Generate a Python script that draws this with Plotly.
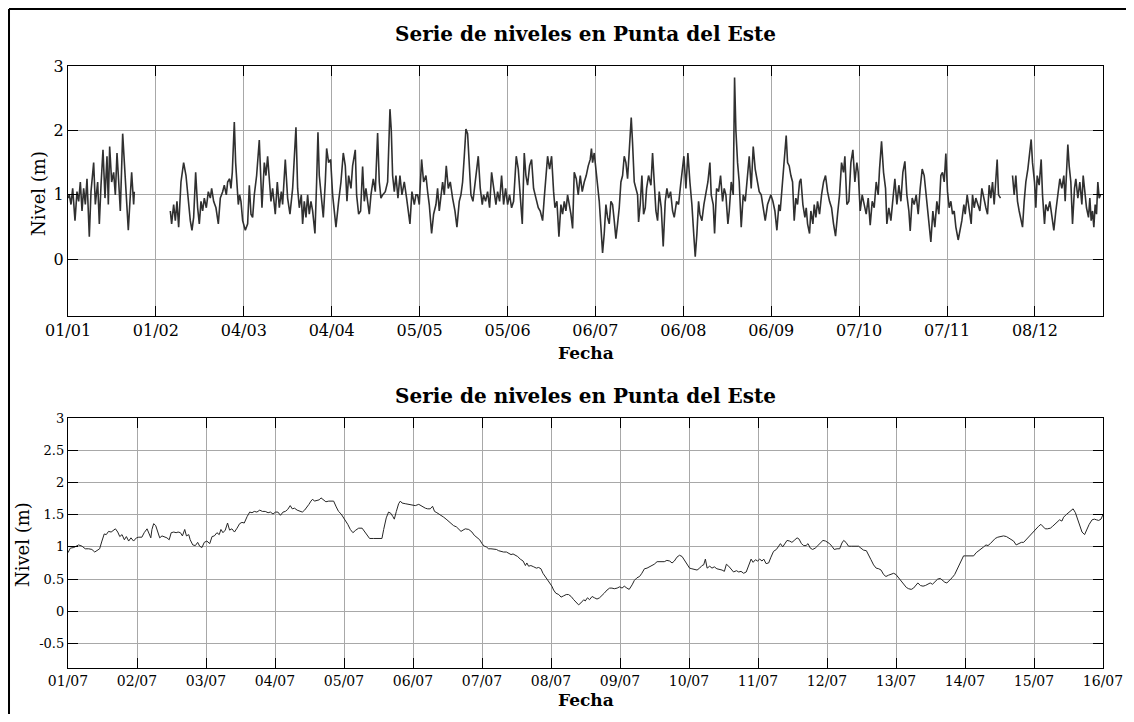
import pandas as pd
import plotly.graph_objects as go
from plotly.subplots import make_subplots

# ---- datos ----
# serie anual: (dias desde 01/01, nivel en m); tres tramos separados por huecos
anual_ene = [(0.0, 0.95), (0.47, 1.0), (1.06, 0.85), (1.65, 1.1), (2.47, 0.6), (3.17, 1.05), (3.76, 0.9),
             (4.35, 1.2), (4.94, 0.75), (5.52, 1.1), (6.11, 0.85), (6.70, 1.25), (7.52, 0.35), (8.11, 1.05),
             (9.05, 1.5), (9.64, 0.85), (10.46, 1.2), (11.05, 0.55), (11.64, 1.15), (12.34, 1.7), (13.05, 0.95),
             (13.75, 1.6), (14.22, 0.85), (14.69, 1.75), (15.40, 1.2), (16.10, 1.35), (16.69, 1.0), (17.28, 1.65),
             (17.75, 1.3), (18.45, 0.75), (19.28, 1.95), (20.10, 1.3), (20.80, 0.8), (21.27, 0.45), (21.98, 1.0),
             (22.45, 1.35), (23.15, 0.85), (23.39, 1.05)]

anual_feb_nov = [
    (36.08, 0.75), (36.55, 0.55), (37.26, 0.85), (37.85, 0.6), (38.43, 0.9), (39.02, 0.5), (39.84, 1.2),
    (40.78, 1.5), (41.61, 1.3), (42.43, 0.9), (43.13, 0.6), (43.72, 0.45), (44.31, 0.65), (45.02, 1.35),
    (45.72, 0.8), (46.31, 0.55), (46.90, 0.9), (47.48, 0.75), (48.07, 0.95), (48.78, 0.8), (49.48, 1.05),
    (50.19, 0.95), (50.66, 1.1), (51.36, 0.9), (52.18, 0.8), (53.01, 0.55), (53.71, 0.95), (54.54, 1.05),
    (55.12, 1.15), (55.83, 1.0), (56.30, 1.2), (57.00, 1.25), (57.47, 1.1), (57.94, 1.35), (58.41, 2.0),
    (58.65, 2.13), (59.12, 1.5), (59.59, 1.1), (60.06, 0.85), (60.53, 1.0), (61.00, 0.9),
    (61.59, 0.6), (62.53, 0.45), (63.35, 0.55), (63.94, 1.15), (64.53, 0.7), (65.11, 0.65), (65.70, 1.0),
    (66.52, 1.3), (67.46, 1.85), (68.05, 1.0), (68.40, 0.8), (69.23, 1.5), (69.81, 1.3), (70.40, 1.6),
    (70.99, 1.2), (71.58, 0.9), (72.16, 1.1), (73.10, 0.7), (73.81, 1.2), (74.52, 0.8), (75.22, 1.05),
    (75.69, 0.85), (76.63, 1.55), (77.45, 0.95), (78.28, 0.7), (79.22, 1.1), (80.39, 2.05), (80.98, 1.1),
    (81.57, 0.8), (82.27, 1.0), (82.74, 0.55), (83.33, 0.9), (83.92, 0.65), (84.51, 1.0), (85.09, 0.7),
    (85.68, 0.9), (86.27, 0.75), (87.09, 0.4), (87.68, 1.2), (88.15, 1.97), (88.62, 1.3), (89.21, 1.0),
    (90.03, 0.65), (90.74, 1.2), (91.21, 1.72), (91.91, 1.5), (92.62, 1.55), (93.32, 1.0), (93.91, 0.7),
    (94.50, 0.5), (95.44, 0.9), (96.26, 1.2), (97.08, 1.65), (97.79, 1.45), (98.38, 0.9), (98.96, 1.3),
    (99.79, 1.1), (100.37, 1.45), (101.31, 1.7), (101.78, 1.0), (102.49, 0.7), (103.19, 0.75), (103.90, 1.44),
    (104.49, 0.9), (105.07, 1.1), (105.66, 0.9), (106.25, 0.7), (106.84, 1.0), (107.66, 1.25), (108.37, 1.05),
    (109.19, 1.96), (109.78, 1.2), (110.36, 0.95), (110.95, 1.0), (111.89, 1.05), (112.72, 1.2), (113.54, 2.33),
    (114.01, 2.0), (114.48, 1.3), (115.07, 1.05), (115.65, 1.3), (116.36, 0.95), (117.06, 1.3), (117.77, 1.0),
    (118.59, 1.2), (119.41, 0.95), (120.12, 0.7), (120.59, 0.55), (121.29, 1.05), (122.12, 0.85), (122.70, 1.0),
    (123.29, 1.0), (123.88, 0.85), (124.70, 1.55), (125.41, 1.2), (126.23, 1.3), (126.82, 1.05), (127.40, 0.85),
    (128.23, 0.4), (128.93, 0.7), (129.76, 0.85), (130.34, 1.1), (130.93, 0.75), (131.52, 0.95), (132.11, 1.2),
    (132.70, 1.0), (133.40, 1.45), (134.11, 1.1), (134.81, 1.2), (135.63, 0.95), (136.46, 0.75), (137.16, 0.5),
    (137.98, 0.9), (138.57, 1.0), (139.16, 1.2), (139.75, 1.6), (140.33, 2.02), (140.92, 1.95), (141.51, 1.5),
    (142.10, 1.0), (142.80, 0.9), (143.27, 1.1), (143.98, 1.4), (144.68, 1.6), (145.39, 1.1), (146.09, 0.85),
    (146.56, 1.0), (147.27, 0.9), (147.97, 1.05), (148.68, 0.8), (149.39, 1.35), (150.09, 1.1), (150.91, 0.85),
    (151.50, 1.05), (152.21, 0.9), (152.91, 1.3), (153.62, 0.85), (154.32, 1.1), (155.03, 0.85), (155.73, 1.0),
    (156.44, 0.8), (157.14, 0.9), (158.08, 1.6), (158.79, 1.4), (159.49, 0.95), (160.20, 0.55), (160.90, 1.65),
    (161.49, 1.3), (162.08, 1.15), (162.78, 1.45), (163.49, 1.55), (164.19, 1.1), (165.02, 0.95), (165.84, 0.8),
    (166.54, 0.75), (167.37, 0.6), (167.95, 0.95), (168.54, 1.3), (169.13, 1.6), (169.84, 1.4), (170.54, 1.6),
    (171.25, 1.05), (171.72, 0.8), (172.42, 0.9), (173.13, 0.35), (173.83, 0.85), (174.42, 0.7), (175.01, 0.9),
    (175.59, 0.75), (176.18, 1.0), (176.89, 0.85), (177.36, 0.7), (177.95, 0.48), (178.53, 1.35), (179.24, 1.25),
    (179.94, 1.0), (180.65, 1.3), (181.35, 1.05), (182.06, 1.2), (182.76, 1.3), (183.47, 1.45), (184.17, 1.55),
    (184.6, 1.72), (185.00, 1.5), (185.58, 1.65), (186.17, 1.4), (186.76, 1.2), (187.35, 0.9), (187.94, 0.5),
    (188.52, 0.1), (189.11, 0.4), (189.70, 0.85), (190.29, 0.65), (190.87, 0.55), (191.46, 0.9), (192.05, 0.85),
    (192.64, 0.6), (193.22, 0.32), (193.81, 0.55), (194.40, 0.8), (194.99, 1.2), (195.58, 1.3), (196.16, 1.6),
    (196.75, 1.5), (197.34, 1.25), (197.93, 1.75), (198.63, 2.2), (199.10, 1.8), (199.69, 1.2), (200.28, 1.1),
    (200.87, 1.0), (201.22, 0.58), (201.80, 0.85), (202.39, 1.3), (202.98, 0.7), (203.57, 0.8), (204.04, 1.1),
    (204.74, 1.3), (205.57, 1.15), (206.15, 1.65), (206.86, 1.2), (207.33, 0.75), (207.92, 0.6), (208.50, 1.05),
    (209.21, 0.8), (209.91, 0.2), (210.62, 0.9), (211.21, 1.1), (211.80, 0.95), (212.50, 1.05), (213.21, 0.75),
    (213.79, 0.65), (214.62, 0.9), (215.32, 0.85), (216.03, 1.15), (216.73, 1.4), (217.20, 1.6), (217.91, 1.1),
    (218.61, 1.65), (219.32, 1.2), (220.02, 0.85), (220.73, 0.35), (221.20, 0.04), (221.79, 0.4), (222.37, 0.9),
    (222.84, 0.7), (223.55, 0.6), (224.25, 0.85), (224.96, 1.05), (225.66, 1.2), (226.37, 1.5), (226.84, 1.0),
    (227.54, 0.85), (228.02, 0.4), (228.72, 1.1), (229.43, 1.05), (230.13, 1.3), (230.84, 0.9), (231.42, 1.1),
    (232.01, 1.0), (232.72, 0.55), (233.19, 0.75), (233.89, 1.2), (234.60, 1.0), (235.07, 2.82), (235.54, 2.0),
    (236.13, 1.5), (236.71, 1.2), (237.42, 0.5), (238.12, 1.0), (238.83, 0.9), (239.53, 1.3), (240.24, 1.6),
    (240.94, 1.1), (241.65, 1.75), (242.35, 1.4), (243.06, 1.2), (243.76, 1.05), (244.47, 1.0), (245.17, 0.8),
    (245.88, 0.6), (246.70, 0.85), (247.41, 0.95), (247.88, 1.0), (248.58, 0.9), (249.29, 0.75), (249.99, 0.45),
    (250.70, 0.85), (251.17, 0.75), (251.64, 1.0), (252.35, 1.5), (252.81, 1.75), (253.28, 1.92), (253.76, 1.5),
    (254.34, 1.45), (254.93, 1.3), (255.52, 1.2), (256.10, 0.6), (256.69, 0.95), (257.28, 0.85), (257.99, 1.2),
    (258.46, 1.25), (259.16, 0.85), (259.87, 0.65), (260.34, 0.8), (260.81, 0.55), (261.51, 0.4), (261.98, 0.75),
    (262.69, 0.55), (263.16, 0.85), (263.74, 0.65), (264.33, 0.9), (265.04, 0.7), (265.74, 1.0), (266.45, 1.2),
    (267.15, 1.3), (267.86, 1.05), (268.56, 0.9), (269.27, 0.8), (269.97, 0.55), (270.68, 0.36), (271.39, 0.7),
    (272.09, 1.0), (272.80, 1.5), (273.50, 1.35), (273.97, 1.6), (274.68, 0.85), (275.38, 0.9), (276.09, 1.5),
    (276.79, 1.7), (277.50, 1.2), (278.20, 1.5), (278.67, 1.35), (279.38, 0.75), (280.08, 1.0), (280.79, 0.85),
    (281.49, 0.7), (282.20, 0.95), (282.90, 0.53), (283.61, 0.9), (284.31, 0.8), (285.02, 1.2), (285.72, 1.0),
    (286.19, 1.4), (286.90, 1.83), (287.61, 1.35), (288.31, 1.1), (288.78, 0.55), (289.48, 0.8), (290.19, 0.6),
    (290.90, 1.0), (291.60, 1.25), (292.31, 0.85), (293.01, 1.15), (293.72, 0.9), (294.42, 1.35), (295.13, 1.52),
    (295.83, 1.0), (296.54, 0.75), (297.01, 0.44), (297.71, 0.95), (298.42, 0.85), (299.12, 1.0), (299.83, 0.7),
    (300.53, 1.1), (301.24, 1.4), (301.94, 1.3), (302.65, 1.0), (303.35, 0.6), (303.82, 0.45), (304.29, 0.27),
    (305.00, 0.75), (305.70, 0.5), (306.41, 0.9), (307.11, 0.7), (307.82, 1.3), (308.41, 1.35), (309.00, 1.2),
    (309.58, 1.64), (310.17, 1.05), (310.76, 0.8), (311.35, 0.9), (311.93, 0.7), (312.52, 0.75), (313.11, 0.5),
    (313.93, 0.3), (314.52, 0.45), (315.22, 0.6), (315.93, 0.85), (316.40, 0.7), (317.10, 1.0), (317.81, 0.75),
    (318.51, 0.55), (318.99, 1.0), (319.57, 0.8), (320.16, 0.95), (320.87, 0.85), (321.57, 0.75), (322.28, 1.1),
    (323.10, 0.9), (323.69, 0.8), (324.28, 0.7), (324.86, 1.15), (325.45, 0.95), (326.04, 1.2), (326.62, 0.85),
    (327.21, 1.2), (327.68, 1.55), (328.15, 1.0), (328.86, 0.95)]

anual_dic = [(333.09, 1.3), (333.68, 1.0), (334.26, 1.3), (334.85, 0.9), (335.44, 0.75), (336.14, 0.6),
             (336.62, 0.5), (337.20, 0.9), (337.79, 1.2), (338.50, 1.4), (339.20, 1.65), (339.67, 1.86),
             (340.14, 1.5), (340.85, 1.2), (341.32, 0.8), (341.79, 1.3), (342.49, 1.15), (343.20, 1.55),
             (343.67, 1.0), (344.37, 0.55), (344.84, 0.85), (345.55, 0.75), (346.25, 0.9), (346.96, 0.65),
             (347.66, 0.45), (348.37, 0.75), (349.07, 1.0), (349.78, 1.25), (350.48, 1.1), (351.19, 1.3),
             (351.66, 0.9), (352.13, 1.3), (352.60, 1.78), (353.07, 1.45), (353.66, 1.2), (354.25, 0.55),
             (354.95, 1.1), (355.42, 1.25), (356.13, 0.95), (356.83, 1.2), (357.54, 0.85), (358.01, 1.3),
             (358.71, 1.0), (359.18, 0.8), (359.89, 0.65), (360.36, 0.95), (360.83, 0.6), (361.30, 0.75),
             (361.77, 0.5), (362.24, 0.85), (362.71, 0.7), (363.18, 1.2), (363.65, 0.95), (364.12, 1.0)]

# serie de julio: (horas desde 01/07 00:00, nivel en m)
julio = [
    (0.0, 0.91), (0.8, 0.98), (2.0, 0.99), (3.7, 1.03), (4.9, 1.01), (6.0, 0.97), (7.2, 0.97), (8.3, 0.96),
    (9.3, 0.92), (10.1, 0.94), (11.0, 0.97), (11.8, 1.09), (12.6, 1.20), (13.3, 1.19), (14.1, 1.24), (15.0, 1.23),
    (15.7, 1.26), (16.5, 1.28), (17.3, 1.23), (18.0, 1.16), (18.8, 1.19), (19.6, 1.11), (20.3, 1.16), (21.1, 1.09),
    (21.9, 1.14), (22.8, 1.09), (23.8, 1.14), (24.6, 1.15), (25.7, 1.15), (26.5, 1.22), (27.5, 1.28), (28.2, 1.19),
    (28.8, 1.14), (29.2, 1.27), (29.8, 1.36), (30.5, 1.33), (31.2, 1.22), (31.9, 1.14), (32.7, 1.17), (33.5, 1.16),
    (34.4, 1.14), (35.2, 1.11), (35.9, 1.22), (36.8, 1.23), (37.6, 1.22), (38.3, 1.23), (39.1, 1.22), (39.8, 1.17),
    (40.6, 1.27), (41.2, 1.17), (42.0, 1.19), (42.5, 1.11), (43.4, 1.03), (44.3, 1.02), (45.1, 1.07), (45.8, 1.01),
    (46.6, 0.99), (47.4, 1.07), (48.3, 1.09), (49.3, 1.05), (50.1, 1.16), (50.9, 1.17), (51.8, 1.22), (52.6, 1.19),
    (53.2, 1.27), (53.9, 1.22), (54.7, 1.26), (55.5, 1.37), (56.2, 1.26), (57.0, 1.28), (57.9, 1.23), (58.8, 1.29),
    (59.7, 1.36), (60.5, 1.38), (61.3, 1.37), (62.3, 1.47), (63.2, 1.54), (64.0, 1.53), (64.8, 1.55), (65.7, 1.54),
    (66.7, 1.57), (67.6, 1.55), (68.6, 1.55), (69.6, 1.53), (70.4, 1.54), (71.3, 1.51), (72.2, 1.54), (73.0, 1.54),
    (73.9, 1.49), (74.8, 1.54), (75.6, 1.55), (76.4, 1.58), (77.3, 1.64), (78.0, 1.59), (78.8, 1.60), (79.7, 1.57),
    (80.6, 1.55), (81.5, 1.54), (82.3, 1.57), (83.1, 1.63), (83.8, 1.66), (84.5, 1.71), (85.1, 1.74), (85.7, 1.71),
    (86.6, 1.72), (87.4, 1.73), (88.0, 1.76), (88.9, 1.72), (89.7, 1.70), (90.7, 1.71), (91.5, 1.71), (92.4, 1.71),
    (93.3, 1.62), (94.1, 1.55), (95.0, 1.51), (95.9, 1.45), (96.5, 1.40), (97.3, 1.35), (98.2, 1.27), (99.1, 1.22),
    (100.1, 1.26), (101.1, 1.29), (102.3, 1.29), (103.1, 1.24), (104.0, 1.19), (104.9, 1.13), (106.3, 1.13),
    (108.6, 1.13), (109.2, 1.13), (109.8, 1.27), (110.7, 1.45), (111.5, 1.54), (112.3, 1.52), (113.0, 1.47),
    (113.5, 1.43), (114.2, 1.55), (115.0, 1.67), (115.6, 1.71), (116.2, 1.68), (117.3, 1.67), (118.5, 1.66),
    (119.6, 1.65), (120.8, 1.64), (122.0, 1.66), (123.1, 1.63), (124.3, 1.60), (125.1, 1.59), (126.0, 1.59),
    (126.8, 1.63), (127.5, 1.55), (128.3, 1.53), (129.5, 1.50), (130.7, 1.46), (131.8, 1.42), (133.0, 1.37),
    (134.1, 1.33), (135.1, 1.31), (135.9, 1.28), (136.7, 1.24), (137.4, 1.26), (138.2, 1.28), (139.4, 1.27),
    (140.5, 1.23), (141.3, 1.18), (142.3, 1.14), (143.2, 1.11), (144.0, 1.05), (144.8, 1.01), (145.5, 1.00),
    (146.3, 0.97), (147.1, 0.97), (148.1, 0.97), (149.0, 0.96), (149.8, 0.94), (150.6, 0.93), (151.5, 0.92),
    (152.5, 0.92), (153.3, 0.90), (154.1, 0.88), (154.8, 0.89), (155.6, 0.87), (156.4, 0.85), (157.3, 0.81),
    (158.3, 0.78), (159.1, 0.71), (159.6, 0.75), (160.2, 0.70), (161.0, 0.71), (162.0, 0.69), (162.9, 0.67),
    (163.7, 0.68), (164.5, 0.66), (165.2, 0.59), (166.0, 0.54), (166.8, 0.49), (167.5, 0.44), (168.3, 0.39),
    (168.9, 0.33), (169.7, 0.28), (170.7, 0.26), (171.5, 0.22), (172.4, 0.24), (173.3, 0.26), (174.1, 0.26),
    (175.0, 0.23), (175.9, 0.18), (176.8, 0.14), (177.6, 0.10), (178.4, 0.13), (179.4, 0.18), (179.9, 0.16),
    (180.7, 0.21), (181.4, 0.18), (182.3, 0.23), (183.1, 0.21), (184.0, 0.19), (184.9, 0.21), (185.7, 0.24),
    (186.5, 0.28), (187.5, 0.33), (188.4, 0.36), (189.2, 0.36), (190.0, 0.35), (191.0, 0.36), (191.9, 0.38),
    (192.7, 0.36), (193.5, 0.39), (194.4, 0.36), (195.2, 0.34), (196.2, 0.41), (197.0, 0.48), (197.9, 0.52),
    (198.8, 0.54), (199.6, 0.59), (200.5, 0.66), (201.4, 0.67), (202.3, 0.69), (203.1, 0.70), (203.9, 0.73),
    (204.9, 0.77), (205.8, 0.77), (206.6, 0.78), (207.4, 0.77), (208.3, 0.79), (209.3, 0.78), (210.1, 0.75),
    (210.9, 0.78), (211.8, 0.84), (212.7, 0.87), (213.6, 0.85), (214.4, 0.80), (215.3, 0.73), (216.2, 0.67),
    (217.0, 0.66), (217.8, 0.65), (218.8, 0.64), (219.7, 0.67), (220.5, 0.71), (221.1, 0.72), (221.7, 0.81),
    (222.3, 0.67), (223.2, 0.70), (224.0, 0.67), (224.8, 0.69), (225.7, 0.66), (226.7, 0.65), (227.5, 0.64),
    (228.3, 0.62), (229.0, 0.73), (229.8, 0.70), (230.6, 0.66), (231.5, 0.61), (232.5, 0.63), (233.3, 0.61),
    (234.1, 0.62), (235.0, 0.59), (235.9, 0.61), (236.8, 0.71), (237.6, 0.81), (238.3, 0.76), (239.1, 0.80),
    (239.9, 0.78), (240.6, 0.81), (241.4, 0.78), (242.0, 0.81), (242.8, 0.74), (243.7, 0.75), (244.5, 0.84),
    (245.4, 0.93), (246.4, 0.96), (247.2, 1.01), (247.8, 1.05), (248.6, 1.00), (249.3, 1.05), (250.1, 1.10),
    (251.0, 1.09), (251.8, 1.07), (252.6, 1.10), (253.6, 1.14), (254.3, 1.12), (255.1, 1.05), (255.9, 1.02),
    (256.7, 1.02), (257.4, 1.05), (258.2, 0.98), (259.0, 0.96), (259.9, 0.98), (260.8, 1.02), (261.7, 1.06),
    (262.6, 1.10), (263.5, 1.09), (264.2, 1.07), (264.9, 1.05), (265.7, 1.01), (266.5, 0.96), (267.5, 0.97),
    (268.4, 0.97), (269.2, 1.06), (269.8, 1.10), (270.6, 1.07), (271.5, 1.01), (272.5, 1.01), (273.3, 1.01),
    (274.2, 1.01), (275.0, 1.01), (275.8, 0.98), (276.7, 0.95), (277.7, 0.94), (278.5, 0.88), (279.3, 0.80),
    (280.2, 0.72), (281.1, 0.67), (282.0, 0.66), (282.8, 0.64), (283.7, 0.57), (284.5, 0.54), (285.4, 0.56),
    (286.3, 0.58), (287.2, 0.59), (288.0, 0.57), (288.9, 0.52), (289.7, 0.47), (290.7, 0.41), (291.6, 0.37),
    (292.4, 0.35), (293.3, 0.34), (294.1, 0.36), (294.9, 0.40), (295.6, 0.44), (296.5, 0.40), (297.4, 0.39),
    (298.2, 0.40), (299.0, 0.42), (299.9, 0.44), (300.7, 0.42), (301.7, 0.47), (302.5, 0.50), (303.4, 0.51),
    (304.2, 0.48), (305.0, 0.45), (305.7, 0.44), (306.7, 0.48), (307.5, 0.52), (308.4, 0.57), (309.2, 0.64),
    (310.0, 0.71), (310.8, 0.80), (311.5, 0.86), (312.2, 0.86), (313.3, 0.86), (314.2, 0.85), (315.0, 0.86),
    (315.9, 0.91), (316.9, 0.94), (317.7, 0.97), (318.5, 1.00), (319.3, 1.03), (320.0, 1.02), (320.8, 1.05),
    (321.6, 1.09), (322.5, 1.13), (323.4, 1.15), (324.3, 1.16), (325.4, 1.17), (326.4, 1.16), (327.2, 1.14),
    (328.0, 1.12), (328.9, 1.09), (329.8, 1.03), (330.8, 1.05), (331.6, 1.07), (332.4, 1.07), (333.2, 1.11),
    (334.1, 1.15), (334.9, 1.19), (335.9, 1.23), (336.7, 1.28), (337.6, 1.32), (338.4, 1.35), (339.1, 1.31),
    (339.9, 1.28), (340.7, 1.28), (341.7, 1.29), (342.5, 1.32), (343.4, 1.36), (344.2, 1.40), (344.9, 1.42),
    (345.7, 1.40), (346.3, 1.46), (347.2, 1.50), (348.0, 1.53), (348.9, 1.55), (349.6, 1.59), (350.4, 1.53),
    (351.2, 1.43), (351.9, 1.35), (352.7, 1.23), (353.6, 1.19), (354.4, 1.27), (355.2, 1.35), (356.2, 1.42),
    (357.0, 1.43), (357.7, 1.42), (358.5, 1.41), (359.3, 1.43), (360.0, 1.50)]

anio = pd.Timestamp('2011-01-01')
ini_julio = pd.Timestamp('2011-07-01')

# tramos anuales unidos con un hueco (None) entre ellos
x_anual, y_anual = [], []
for tramo in [anual_ene, anual_feb_nov, anual_dic]:
    for d, v in tramo:
        x_anual.append(anio + pd.Timedelta(days=d))
        y_anual.append(v)
    x_anual.append(anio + pd.Timedelta(days=tramo[-1][0] + 0.1))
    y_anual.append(None)

x_julio = [ini_julio + pd.Timedelta(hours=h) for h, v in julio]
y_julio = [v for h, v in julio]

ticks_anual = [anio + pd.Timedelta(days=31 * k) for k in range(12)]
ticks_julio = [ini_julio + pd.Timedelta(days=k) for k in range(16)]

fuente = 'DejaVu Serif'

fig = make_subplots(rows=2, cols=1)
fig.add_trace(go.Scatter(x=x_anual, y=y_anual, mode='lines', connectgaps=False,
                         line=dict(color='#303030', width=1.6)), row=1, col=1)
fig.add_trace(go.Scatter(x=x_julio, y=y_julio, mode='lines',
                         line=dict(color='#262626', width=1)), row=2, col=1)

ejes = dict(showline=True, linecolor='black', linewidth=1.3, mirror='ticks', ticks='inside', ticklen=10,
            tickcolor='black', tickwidth=1, showgrid=True, gridcolor='#a8a8a8', gridwidth=1, zeroline=False,
            automargin=False)

fig.update_xaxes(ejes)
fig.update_yaxes(ejes)
fig.update_layout(
    xaxis=dict(domain=[0, 1], range=[anio, pd.Timestamp('2012-01-01')], tickvals=ticks_anual,
               tickformat='%d/%m', tickfont=dict(family=fuente, size=16, color='black')),
    yaxis=dict(domain=[0.5847, 1], range=[-0.88, 3], tickvals=[0, 1, 2, 3],
               tickfont=dict(family=fuente, size=16, color='black')),
    xaxis2=dict(domain=[0, 1], range=[ini_julio, pd.Timestamp('2011-07-16')], tickvals=ticks_julio,
                tickformat='%d/%m', tickfont=dict(family=fuente, size=14, color='black')),
    yaxis2=dict(domain=[0, 0.4153], range=[-0.88, 3], tickvals=[-0.5, 0, 0.5, 1, 1.5, 2, 2.5, 3],
                ticktext=['-0.5', '0', '0.5', '1', '1.5', '2', '2.5', '3'],
                tickfont=dict(family=fuente, size=13, color='black')),
)

titulo = 'Serie de niveles en Punta del Este'
textos = [
    dict(x=0.5, y=1.0532, text='<b>' + titulo + '</b>', size=20),
    dict(x=0.5, y=0.4518, text='<b>' + titulo + '</b>', size=20),
    dict(x=0.5, y=0.5233, text='<b>Fecha</b>', size=17),
    dict(x=0.5, y=-0.0532, text='<b>Fecha</b>', size=17),
]
for t in textos:
    fig.add_annotation(x=t['x'], y=t['y'], xref='paper', yref='paper', text=t['text'], showarrow=False,
                       xanchor='center', yanchor='middle', font=dict(family=fuente, size=t['size'], color='black'))
fig.add_annotation(x=-0.029, y=0.789, xref='paper', yref='paper', text='Nivel (m)', textangle=-90,
                   showarrow=False, xanchor='center', yanchor='middle',
                   font=dict(family=fuente, size=18, color='black'))
fig.add_annotation(x=-0.0444, y=0.2043, xref='paper', yref='paper', text='Nivel (m)', textangle=-90,
                   showarrow=False, xanchor='center', yanchor='middle',
                   font=dict(family=fuente, size=18, color='black'))

# marco exterior de la figura: solo se ven los lados izquierdo y superior
fig.add_shape(type='line', xref='paper', yref='paper', x0=-0.057, x1=-0.057, y0=-0.3, y1=1.0947,
              line=dict(color='black', width=2))
fig.add_shape(type='line', xref='paper', yref='paper', x0=-0.057, x1=1.3, y0=1.0947, y1=1.0947,
              line=dict(color='black', width=2))

# la pagina deja 8 px de margen: la figura se ajusta para no desbordar la ventana
fig.update_layout(
    width=1118, height=706,
    margin=dict(l=60, r=23, t=58, b=46),
    paper_bgcolor='white', plot_bgcolor='white',
    showlegend=False, hovermode=False,
    font=dict(family=fuente, color='black'),
)

fig.write_html('out.html')
